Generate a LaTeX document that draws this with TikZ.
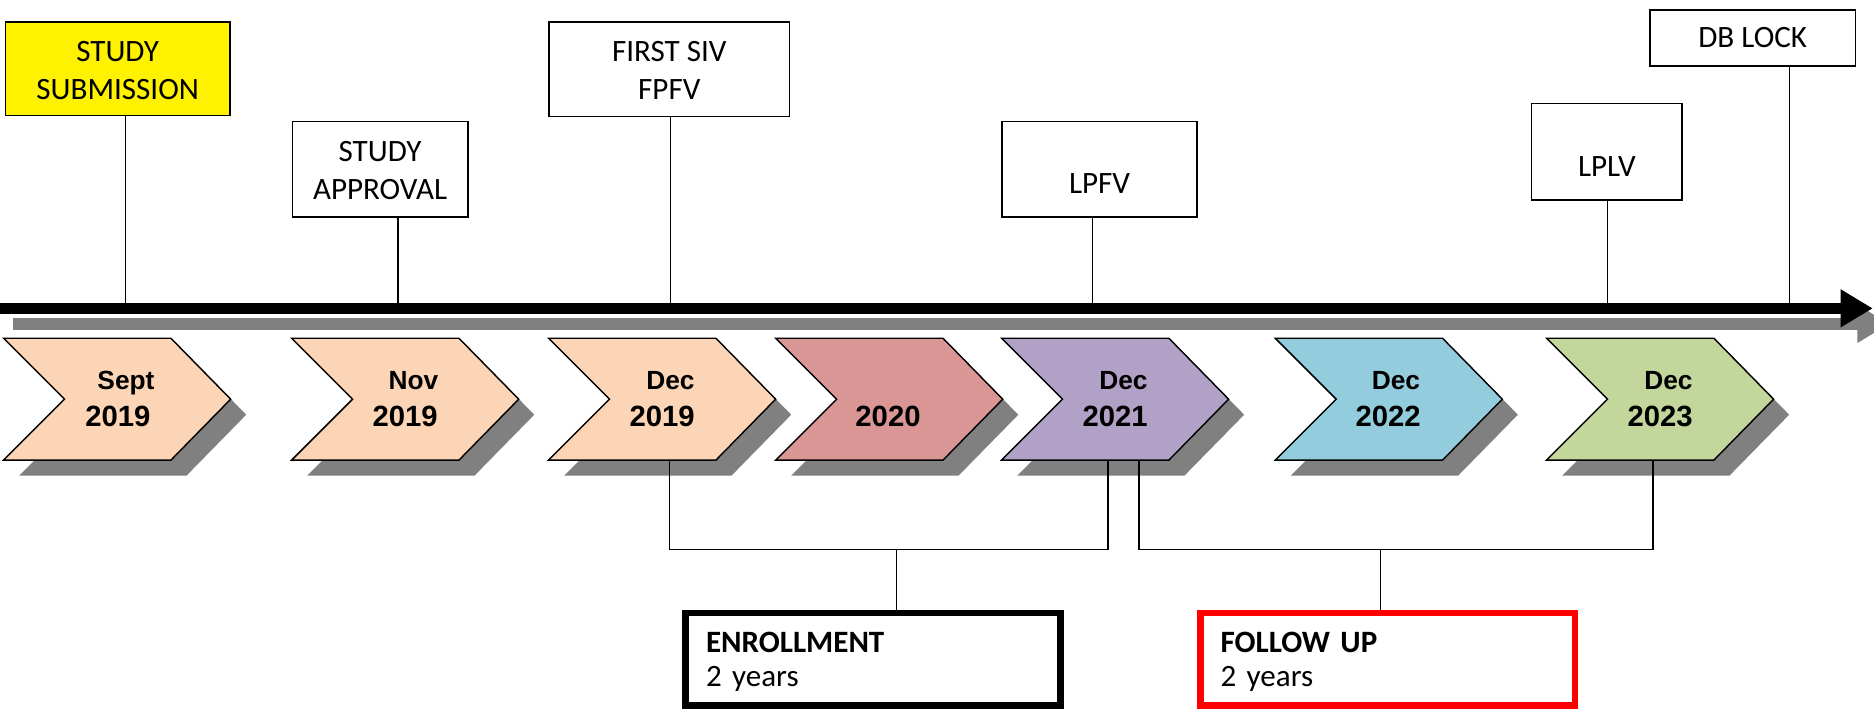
\documentclass[tikz,border=0pt]{standalone}
\usepackage{fontspec}
\setmainfont{Carlito}
\newfontfamily\arialf{Liberation Sans}
\usetikzlibrary{arrows.meta}
\definecolor{peach}{HTML}{FBD5B5}
\definecolor{rose}{HTML}{D99694}
\definecolor{lavender}{HTML}{B2A1C7}
\definecolor{skyb}{HTML}{93CDDD}
\definecolor{olivegr}{HTML}{C3D69B}
\definecolor{shadowgray}{HTML}{808080}
\newcommand\mychev[2]{%
  \fill[shadowgray] (#1+13,296) -- ++(140,0) -- ++(50,51) -- ++(-50,51) -- ++(-140,0) -- ++(51,-51) -- cycle;
  \draw[chevline, fill=#2] (#1,283) -- ++(140,0) -- ++(50,51) -- ++(-50,51) -- ++(-140,0) -- ++(51,-51) -- cycle;}
\begin{document}
\begin{tikzpicture}[x=1pt,y=-1pt,
  topbox/.style={draw=black, line width=1.2pt, fill=white, align=center, font=\fontsize{26}{32}\selectfont, inner sep=0pt},
  lowtext/.style={text height=40.7pt, text depth=0pt},
  chevline/.style={draw=black, line width=1.2pt},
  monthlbl/.style={font=\arialf\bfseries\fontsize{22}{26}\selectfont, anchor=base, inner sep=0pt},
  yearlbl/.style={font=\arialf\bfseries\fontsize{24.5}{29}\selectfont, anchor=base, inner sep=0pt},
  conn/.style={draw=black, line width=1pt},
  spanbox/.style={line width=5.5pt, fill=white, align=left, font=\fontsize{26}{28.5}\selectfont, text width=279.5pt, inner xsep=17pt, inner ysep=0pt, minimum height=77.5pt}
]
\clip (0,0) rectangle (1568,597);
\fill[white] (0,0) rectangle (1568,597);

% timeline
\draw[shadowgray, line width=10pt, -{Triangle[length=27pt,width=30pt]}] (11,271) -- (1581,271);
\draw[black, line width=9pt, -{Triangle[length=27pt,width=30pt]}] (0,258) -- (1567,258);

% top boxes
\node[topbox, fill=yellow, minimum width=188pt, minimum height=78pt] (sub) at (98.5,57.5) {\rule{0pt}{19.3pt}STUDY\\SUBMISSION};
\node[topbox, minimum width=147pt, minimum height=80pt] (app) at (318,141.5) {\rule{0pt}{19.3pt}STUDY\\APPROVAL};
\node[topbox, minimum width=201pt, minimum height=79pt] (siv) at (560,58) {\rule{0pt}{19.3pt}FIRST SIV\\FPFV};
\node[topbox, lowtext, minimum width=163pt, minimum height=80pt] (lpfv) at (920,141.5) {LPFV};
\node[topbox, lowtext, minimum width=126pt, minimum height=81pt] (lplv) at (1344.5,127) {LPLV};
\node[topbox, minimum width=172pt, minimum height=47pt] (db) at (1466.5,31.75) {DB LOCK};

\coordinate (k1) at (105,254);
\coordinate (k2) at (333,254);
\coordinate (k3) at (561,254);
\coordinate (k4) at (914,254);
\coordinate (k5) at (1345,254);
\coordinate (k6) at (1497,254);
\draw[conn] (sub.south -| k1) -- (k1);
\draw[conn] (app.south -| k2) -- (k2);
\draw[conn] (siv.south -| k3) -- (k3);
\draw[conn] (lpfv.south -| k4) -- (k4);
\draw[conn] (lplv.south -| k5) -- (k5);
\draw[conn] (db.south -| k6) -- (k6);

% chevrons
\mychev{3}{peach}
\mychev{244}{peach}
\mychev{459}{peach}
\mychev{649}{rose}
\mychev{838}{lavender}
\mychev{1067}{skyb}
\mychev{1294}{olivegr}

\node[monthlbl] (m1) at (105.4,326) {Sept};
\node[yearlbl] (y1) at (98.6,357) {2019};
\node[monthlbl] (m2) at (346,326) {Nov};
\node[yearlbl] (y2) at (339,357) {2019};
\node[monthlbl] (m3) at (561,326) {Dec};
\node[yearlbl] (y3) at (554,357) {2019};
\node[yearlbl] (y4) at (743,357) {2020};
\node[monthlbl] (m5) at (940,326) {Dec};
\node[yearlbl] (y5) at (933,357) {2021};
\node[monthlbl] (m6) at (1168,326) {Dec};
\node[yearlbl] (y6) at (1161.5,357) {2022};
\node[monthlbl] (m7) at (1396,326) {Dec};
\node[yearlbl] (y7) at (1389,357) {2023};

% spans
\node[spanbox, draw=black] (enr) at (730.5,551.5) {\rule{0pt}{21.7pt}\textbf{ENROLLMENT}\\2 years};
\node[spanbox, draw=red] (fu) at (1161,551.5) {\rule{0pt}{21.7pt}\textbf{FOLLOW UP}\\2 years};

\coordinate (eL) at (560,385);
\coordinate (eR) at (927,385);
\coordinate (eM) at (750,460);
\coordinate (fL) at (953,385);
\coordinate (fR) at (1383,385);
\coordinate (fM) at (1155,460);
\draw[conn] (eL) |- (eM) -| (eR);
\draw[conn] (eM) -- (eM |- enr.north);
\draw[conn] (fL) |- (fM) -| (fR);
\draw[conn] (fM) -- (fM |- fu.north);
\end{tikzpicture}
\end{document}
